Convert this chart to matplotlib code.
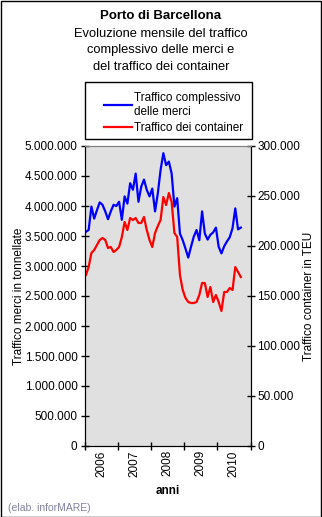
import numpy as np
import pandas as pd
import matplotlib
matplotlib.use("Agg")
import matplotlib.pyplot as plt
from matplotlib.patches import Rectangle
from matplotlib.ticker import FuncFormatter, FixedLocator

# dati mensili gen 2006 - set 2010
mesi = pd.date_range("2006-01-01", periods=57, freq="MS")
anni = ["2006", "2007", "2008", "2009", "2010"]

merci = [3.57, 3.60, 3.99, 3.79, 3.93, 4.06, 4.02, 3.91, 3.78, 3.91,
         4.02, 4.00, 4.07, 3.77, 4.16, 4.04, 4.38, 4.27, 4.54, 4.07,
         4.32, 4.44, 4.27, 4.16, 4.29, 3.91, 4.21, 4.60, 4.88, 4.68,
         4.74, 4.54, 3.99, 4.13, 3.54, 3.43, 3.29, 3.14, 3.32, 3.49,
         3.60, 3.43, 3.91, 3.54, 3.44, 3.52, 3.56, 3.64, 3.32, 3.21,
         3.33, 3.41, 3.48, 3.63, 3.96, 3.61, 3.64]  # milioni di tonnellate

container = [171, 179, 193, 196, 201, 206, 208, 206, 198, 199,
             194, 196, 199, 209, 224, 216, 228, 226, 228, 223,
             223, 229, 216, 206, 199, 213, 220, 226, 249, 241,
             253, 244, 213, 209, 171, 156, 148, 144, 143, 143,
             144, 151, 163, 163, 149, 159, 144, 151, 144, 135,
             154, 154, 158, 156, 179, 174, 169]  # migliaia di TEU

W, H = 322, 517
fig = plt.figure(figsize=(W / 100, H / 100), dpi=100)
plt.rcParams['font.family'] = ['Liberation Sans', 'DejaVu Sans']

# cornice esterna
fig.patches.append(Rectangle((0.5 / W, 0.5 / H), 1 - 1.5 / W, 1 - 1.5 / H,
                             transform=fig.transFigure, fill=False,
                             edgecolor='black', linewidth=1))

x0, x1, ytop, ybot = 84.5, 250.5, 146, 446
ax = fig.add_axes([x0 / W, 1 - ybot / H, (x1 - x0) / W, (ybot - ytop) / H])
ax.set_facecolor('#E0E0E0')
ax2 = ax.twinx()

x = np.arange(len(merci)) + 0.5
l1, = ax.plot(x, np.array(merci) * 1e6, color='#0000FF', lw=1.6)
l2, = ax2.plot(x, np.array(container) * 1e3, color='#FF0000', lw=1.6)

ax.set_xlim(0, 60)
ax.set_ylim(0, 5e6)
ax2.set_ylim(0, 300000)
ax.set_yticks(np.arange(0, 5e6 + 1, 5e5))
ax2.set_yticks(np.arange(0, 300001, 50000))
fmt = FuncFormatter(lambda v, p: f"{int(round(v)):,}".replace(",", "."))
ax.yaxis.set_major_formatter(fmt)
ax2.yaxis.set_major_formatter(fmt)

ax.xaxis.set_major_locator(FixedLocator(np.arange(0, 61, 12)))
ax.xaxis.set_minor_locator(FixedLocator(np.arange(6, 60, 12)))
ax.set_xticklabels([])
ax.set_xticklabels(anni, minor=True, rotation=90, fontsize=8.5)
ax.tick_params(axis='x', which='major', direction='inout', length=6, width=1)
ax.tick_params(axis='x', which='minor', length=0, pad=3)
ax.tick_params(axis='y', direction='inout', length=6, width=1, labelsize=8.5, pad=2)
ax2.tick_params(axis='y', direction='inout', length=6, width=1, labelsize=8.5, pad=2)

for a in (ax, ax2):
    a.spines['top'].set_color('#808080')
    a.spines['left'].set_color('black')
    a.spines['right'].set_color('black')
    a.spines['bottom'].set_color('black')

ax.set_ylabel('Traffico merci in tonnellate', fontsize=8.5, labelpad=0)
ax2.set_ylabel('Traffico container in TEU', fontsize=8.5, labelpad=2)
ax.set_xlabel('anni', fontsize=8.5, fontweight='bold', labelpad=6)

fig.text(0.5, 1 - 16 / H, 'Porto di Barcellona', ha='center', va='center',
         fontsize=9.5, fontweight='bold')
fig.text(0.5, 1 - 50.5 / H,
         'Evoluzione mensile del traffico\ncomplessivo delle merci e\ndel traffico dei container',
         ha='center', va='center', fontsize=9.3, linespacing=1.55)

# legenda
fig.patches.append(Rectangle((84.5 / W, 1 - 139 / H), 167 / W, 57 / H,
                             transform=fig.transFigure, fill=False,
                             edgecolor='black', linewidth=1))
fig.legend([l1, l2], ['Traffico complessivo\ndelle merci', 'Traffico dei container'],
           loc='upper left', bbox_to_anchor=(99 / W, 1 - 87 / H),
           frameon=False, fontsize=8.5, handlelength=2.4, handletextpad=0.15,
           labelspacing=0.3, borderaxespad=0).get_texts()[0].set_linespacing(1.3)

fig.text(8 / W, 1 - 508 / H, '(elab. inforMARE)', ha='left', va='center',
         fontsize=7.5, color='#8080A0')

fig.savefig('out.png', dpi=100)
